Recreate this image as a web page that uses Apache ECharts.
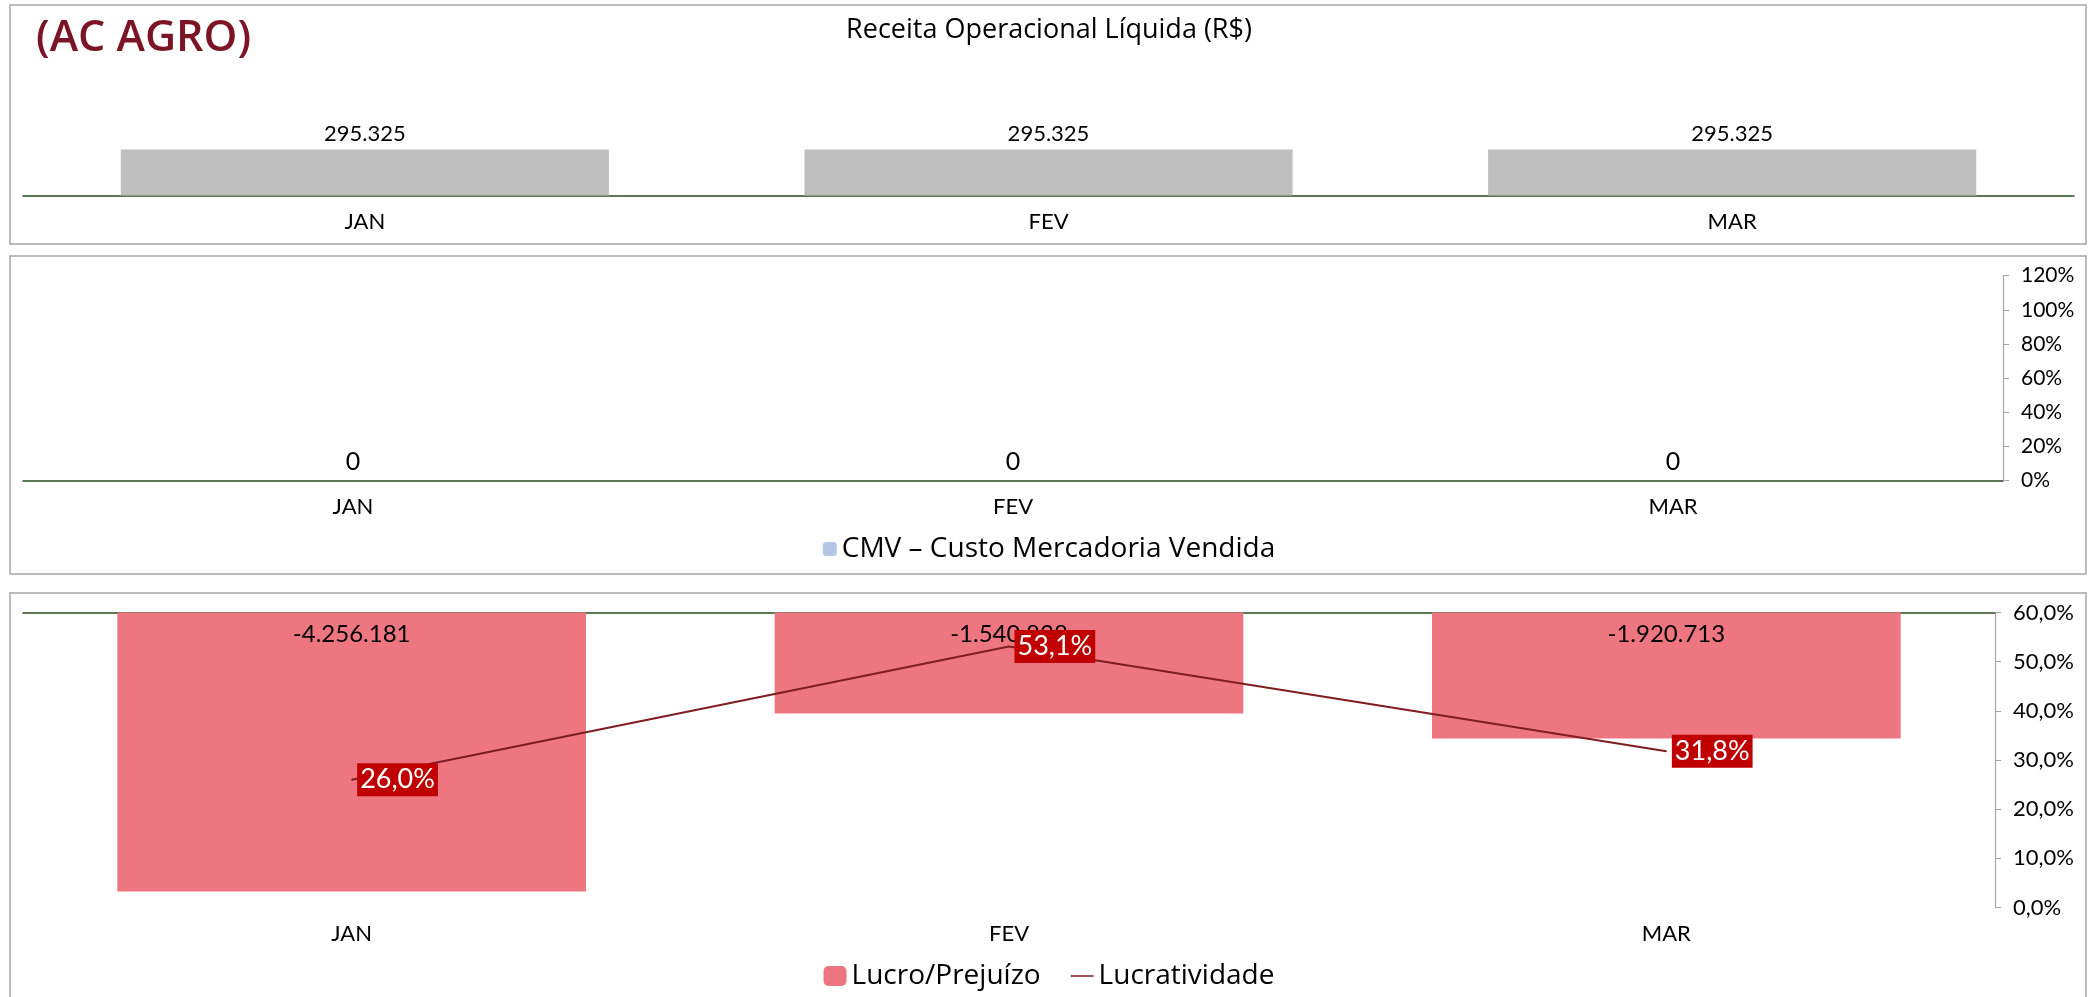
<!DOCTYPE html>
<html><head><meta charset="utf-8">
<script src="https://cdn.jsdelivr.net/npm/echarts@6/dist/echarts.min.js"></script>
<style>html,body{margin:0;padding:0;background:#fff}#c{width:2098px;height:997px}</style>
</head><body><div id="c"></div>
<script>
const months = ['JAN', 'FEV', 'MAR'];
const receita = [295325, 295325, 295325];
const cmv = [0, 0, 0];
const lucro = [-4256181, -1540838, -1920713];
const lucratividade = [0.260, 0.531, 0.318];
const cmvPctTicks = { min: 0, max: 1.2, interval: 0.2 };
const lucPctTicks = { min: 0, max: 0.6, interval: 0.1 };

const FONT = 'Lato, "Noto Sans", sans-serif';
const FONT2 = '"Open Sans", "Noto Sans", sans-serif';
const GREEN = '#2b4a1f';
const GREY = '#a6a6a6';
const LINE_ICON = 'path://M0,0L0.05,0L0,0.05Z M0,9.2L23,9.2L23,10.8L0,10.8Z M22.95,20L23,20L23,19.95Z';

function fmtInt(v) {
  const s = Math.abs(Math.round(v)).toString().replace(/\B(?=(\d{3})+(?!\d))/g, '.');
  return (v < 0 ? '-' : '') + s;
}
function fmtPct0(v) { return Math.round(v * 100) + '%'; }
function fmtPct1(v) { return (v * 100).toFixed(1).replace('.', ',') + '%'; }

const chart = echarts.init(document.getElementById('c'), null, { renderer: 'canvas' });

const catAxis = (grid, pos, showLine, showLabel) => ({
  type: 'category', gridIndex: grid, data: months, position: pos,
  axisLine: { show: showLine, onZero: false, lineStyle: { color: GREEN, width: 1.5 } },
  axisTick: { show: false },
  axisLabel: { show: showLabel, fontSize: 22, color: '#000', fontFamily: FONT, margin: 15 }
});

chart.setOption({
  animation: false,
  textStyle: { fontFamily: FONT },
  graphic: [
    { type: 'rect', silent: true, z: -10, shape: { x: 10, y: 5, width: 2076, height: 239 }, style: { fill: 'none', stroke: GREY, lineWidth: 1.5 } },
    { type: 'rect', silent: true, z: -10, shape: { x: 10, y: 256, width: 2076, height: 318 }, style: { fill: 'none', stroke: GREY, lineWidth: 1.5 } },
    { type: 'rect', silent: true, z: -10, shape: { x: 10, y: 593, width: 2076, height: 420 }, style: { fill: 'none', stroke: GREY, lineWidth: 1.5 } }
  ],
  title: [
    { text: '(AC AGRO)', left: 36, top: 17, padding: 0,
      textStyle: { fontSize: 43, fontWeight: 600, color: '#7b1424', fontFamily: FONT2 } },
    { text: 'Receita Operacional Líquida (R$)', left: 'center', top: 17, padding: 0,
      textStyle: { fontSize: 27, fontWeight: 'normal', color: '#000', fontFamily: FONT2 } }
  ],
  legend: [
    { data: ['CMV – Custo Mercadoria Vendida'], left: 'center', top: 535, itemWidth: 14, itemHeight: 14,
      textStyle: { fontSize: 28, color: '#000', fontFamily: FONT2 }, padding: 0, itemGap: 20 },
    { data: ['Lucro/Prejuízo', { name: 'Lucratividade', icon: LINE_ICON }], left: 'center', top: 962,
      itemWidth: 23, itemHeight: 20,
      textStyle: { fontSize: 28, color: '#000', fontFamily: FONT2 }, padding: 0, itemGap: 30 }
  ],
  grid: [
    { left: 23, width: 2051, top: 141, height: 54.5 },
    { left: 23, width: 1980, top: 275.7, height: 205 },
    { left: 23, width: 1972, top: 612.5, height: 295 }
  ],
  xAxis: [
    catAxis(0, 'bottom', true, true),
    catAxis(1, 'bottom', true, true),
    catAxis(2, 'top', true, false),
    catAxis(2, 'bottom', false, true)
  ],
  yAxis: [
    { type: 'value', gridIndex: 0, min: 0, max: 350000, show: false },
    { type: 'value', gridIndex: 1, min: 0, max: 1, show: false },
    { type: 'value', gridIndex: 1, position: 'right', min: cmvPctTicks.min, max: cmvPctTicks.max, interval: cmvPctTicks.interval,
      axisLine: { show: true, lineStyle: { color: GREY, width: 1.2 } },
      axisTick: { show: true, length: 6, lineStyle: { color: GREY } },
      splitLine: { show: false },
      axisLabel: { formatter: fmtPct0, fontSize: 21, color: '#000', fontFamily: FONT, margin: 18 } },
    { type: 'value', gridIndex: 2, min: -4500000, max: 0, show: false },
    { type: 'value', gridIndex: 2, position: 'right', min: lucPctTicks.min, max: lucPctTicks.max, interval: lucPctTicks.interval,
      axisLine: { show: true, lineStyle: { color: GREY, width: 1.2 } },
      axisTick: { show: true, length: 6, lineStyle: { color: GREY } },
      splitLine: { show: false },
      axisLabel: { formatter: fmtPct1, fontSize: 22, color: '#000', fontFamily: FONT, margin: 18 } }
  ],
  series: [
    { name: 'Receita', type: 'bar', xAxisIndex: 0, yAxisIndex: 0, data: receita, barWidth: '71.4%',
      itemStyle: { color: '#bfbfbf' },
      label: { show: true, position: 'top', distance: 5, fontSize: 22, color: '#000', formatter: p => fmtInt(p.value) } },
    { name: 'CMV – Custo Mercadoria Vendida', type: 'bar', xAxisIndex: 1, yAxisIndex: 1, data: cmv, barWidth: '70%',
      itemStyle: { color: '#b4c7e7' },
      label: { show: true, position: 'top', distance: 6, fontSize: 25, color: '#000', formatter: p => fmtInt(p.value) } },
    { name: 'Lucro/Prejuízo', type: 'bar', xAxisIndex: 2, yAxisIndex: 3, data: lucro, barWidth: '71.3%',
      itemStyle: { color: '#ee7680' },
      label: { show: true, position: 'insideTop', distance: 10, fontSize: 24, color: '#000', formatter: p => fmtInt(p.value) } },
    { name: 'Lucratividade', type: 'line', xAxisIndex: 2, yAxisIndex: 4, data: lucratividade,
      symbol: 'circle', symbolSize: 1, showSymbol: true,
      lineStyle: { color: '#7f1d22', width: 2 }, itemStyle: { color: '#7f1d22' }, z: 5,
      label: { show: true, position: 'right', distance: 5, fontSize: 27, color: '#fff', backgroundColor: '#c00000',
        padding: [4, 3, 2, 3], formatter: p => fmtPct1(p.value) } }
  ]
});
</script>
</body></html>
